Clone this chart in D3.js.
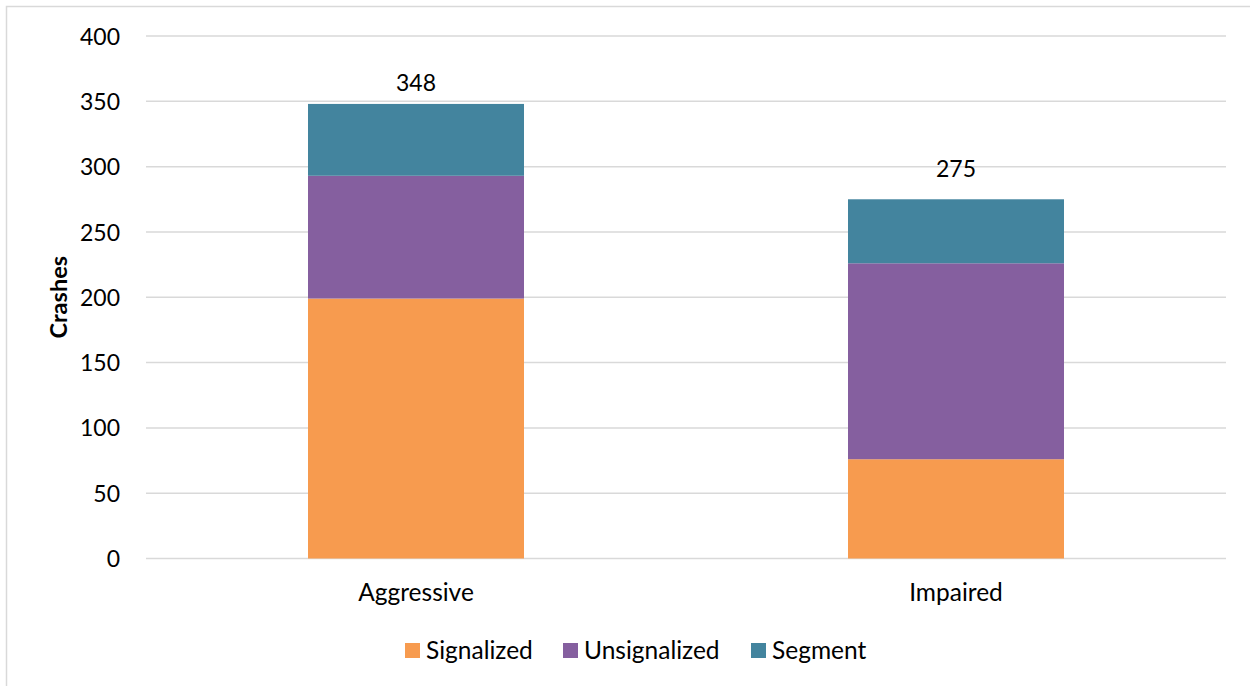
<!DOCTYPE html>
<html><head><meta charset="utf-8">
<script src="https://cdn.jsdelivr.net/npm/d3@7"></script>
<style>body{margin:0;background:#fff}svg{display:block}text{font-family:Lato, "Open Sans", sans-serif;fill:#000}</style>
</head><body>
<script>
const categories = ["Aggressive", "Impaired"];
const seriesNames = ["Signalized", "Unsignalized", "Segment"];
const signalized = [199, 76];
const unsignalized = [94, 150];
const segment = [55, 49];
const totals = [348, 275];
const yTicks = [0, 50, 100, 150, 200, 250, 300, 350, 400];
const colors = ["#F79B4F", "#855F9F", "#43849E"];

(function () {
const W = 1250, H = 686;
const svg = d3.select("body").append("svg").attr("width", W).attr("height", H);
svg.append("rect").attr("x", 6.5).attr("y", 6.5).attr("width", W + 10).attr("height", H + 10)
  .attr("fill", "#fff").attr("stroke", "#d9d9d9").attr("stroke-width", 1.5);

const pLeft = 146, pRight = 1226, pTop = 36, pBottom = 558.5;
const x = d3.scaleBand().domain(categories).range([pLeft, pRight]).padding(0);
const y = d3.scaleLinear().domain([0, 400]).range([pBottom, pTop]);

svg.append("g").selectAll("line").data(yTicks).join("line")
  .attr("x1", pLeft).attr("x2", pRight)
  .attr("y1", d => y(d)).attr("y2", d => y(d))
  .attr("stroke", "#d9d9d9").attr("stroke-width", 1.5);

const yAxis = d3.axisLeft(y).tickValues(yTicks).tickSize(0).tickPadding(0);
const ga = svg.append("g").attr("transform", `translate(${pLeft - 26},0)`).call(yAxis);
ga.select(".domain").remove();
ga.selectAll("text").style("font-family", "Lato, sans-serif").style("font-size", "23px").attr("fill", "#000").attr("dy", "0.35em");

const rows = categories.map((c, i) => ({cat: c, Signalized: signalized[i], Unsignalized: unsignalized[i], Segment: segment[i]}));
const stack = d3.stack().keys(seriesNames)(rows);
const bw = x.bandwidth() * 0.4;
svg.append("g").selectAll("g").data(stack).join("g")
  .attr("fill", (d, i) => colors[i])
  .selectAll("rect").data(d => d).join("rect")
  .attr("x", d => x(d.data.cat) + (x.bandwidth() - bw) / 2)
  .attr("width", bw)
  .attr("y", d => y(d[1]))
  .attr("height", d => y(d[0]) - y(d[1]));

const labelGap = [13, 22];
svg.append("g").selectAll("text").data(categories).join("text")
  .attr("x", c => x(c) + x.bandwidth() / 2)
  .attr("y", (c, i) => y(totals[i]) - labelGap[i])
  .attr("text-anchor", "middle").style("font-size", "23px")
  .text((c, i) => totals[i]);

const xAxis = d3.axisBottom(x).tickSize(0).tickPadding(0);
const gx = svg.append("g").attr("transform", `translate(0,${pBottom + 34})`).call(xAxis);
gx.select(".domain").remove();
gx.selectAll("text").style("font-family", "Lato, sans-serif").style("font-size", "24.5px").attr("fill", "#000").attr("dy", "0.35em");

svg.append("text").attr("transform", `translate(67,${(pTop + pBottom) / 2}) rotate(-90)`)
  .attr("text-anchor", "middle").style("font-size", "23.5px").style("font-weight", "bold").text("Crashes");

const legX = [405, 563, 751];
const lg = svg.append("g").selectAll("g").data(seriesNames).join("g")
  .attr("transform", (d, i) => `translate(${legX[i]},643)`);
lg.append("rect").attr("width", 15).attr("height", 15).attr("fill", (d, i) => colors[i]);
lg.append("text").attr("x", 21).attr("y", 7.5).attr("dy", "0.35em").style("font-size", "24.5px").text(d => d);
})();
</script>
</body></html>
